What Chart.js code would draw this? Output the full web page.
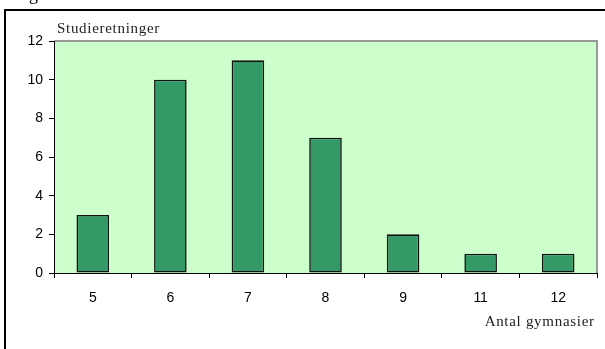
<!DOCTYPE html>
<html>
<head>
<meta charset="utf-8">
<script src="https://cdn.jsdelivr.net/npm/chart.js@4/dist/chart.umd.min.js"></script>
<style>
  html, body { margin: 0; padding: 0; background: #ffffff; }
  #wrap { width: 605px; height: 349px; position: relative; }
</style>
</head>
<body>
<div id="wrap"><canvas id="c" width="605" height="349"></canvas></div>
<script>
// Number of study programmes offered by how many upper-secondary schools
const categories = ['5', '6', '7', '8', '9', '11', '12'];
const studieretninger = [3, 10, 11, 7, 2, 1, 1];
const yTicks = [0, 2, 4, 6, 8, 10, 12];

const yTitle = 'Studieretninger';
const xTitle = 'Antal gymnasier';
const serif = '"Liberation Serif", "DejaVu Serif", serif';
const sans = '"Liberation Sans", Arial, sans-serif';

// Draws text with a little extra tracking, character by character
function trackedText(ctx, text, x, y, spacing, alignRight) {
  const chars = Array.from(text);
  const widths = chars.map(ch => ctx.measureText(ch).width);
  const total = widths.reduce((s, w) => s + w, 0) + spacing * (chars.length - 1);
  let cx = alignRight ? x - total : x;
  ctx.textAlign = 'left';
  chars.forEach((ch, i) => {
    ctx.fillText(ch, cx, y);
    cx += widths[i] + spacing;
  });
}

// Plot background, plot frame, outer frame and axis captions
const decor = {
  id: 'decor',
  beforeDraw(chart) {
    const { ctx, chartArea: a } = chart;
    ctx.save();
    ctx.fillStyle = '#ccffcc';
    ctx.fillRect(a.left, a.top, a.right - a.left, a.bottom - a.top);
    ctx.strokeStyle = '#999999';
    ctx.lineWidth = 2;
    ctx.beginPath();
    ctx.moveTo(a.left, a.top);
    ctx.lineTo(a.right, a.top);
    ctx.lineTo(a.right, a.bottom);
    ctx.stroke();
    ctx.restore();
  },
  afterDraw(chart) {
    const { ctx, chartArea: a } = chart;
    ctx.save();
    // outer frame (continues beyond the canvas to the right and bottom)
    ctx.strokeStyle = '#000000';
    ctx.lineWidth = 2;
    ctx.beginPath();
    ctx.moveTo(5, 349);
    ctx.lineTo(5, 10);
    ctx.lineTo(605, 10);
    ctx.stroke();
    // heading descender above the frame
    ctx.fillStyle = '#000000';
    ctx.font = '18px ' + serif;
    ctx.textAlign = 'left';
    ctx.textBaseline = 'alphabetic';
    ctx.fillText('g', 29, 0);
    // axis captions
    ctx.font = '15px ' + serif;
    ctx.fillStyle = '#222222';
    trackedText(ctx, yTitle, a.left + 3, 33, 0.7, false);
    trackedText(ctx, xTitle, a.right - 3, 326, 0.7, true);
    ctx.restore();
  }
};

new Chart(document.getElementById('c'), {
  type: 'bar',
  data: {
    labels: categories,
    datasets: [{
      data: studieretninger,
      backgroundColor: '#339966',
      borderColor: '#111111',
      borderWidth: 1.6,
      borderSkipped: false,
      barPercentage: 0.42,
      categoryPercentage: 1.0
    }]
  },
  options: {
    responsive: false,
    animation: false,
    events: [],
    layout: { padding: { left: 0, right: 8, top: 41, bottom: 0 } },
    plugins: { legend: { display: false }, tooltip: { enabled: false } },
    scales: {
      x: {
        offset: true,
        afterFit(scale) { scale.height = 76; },
        border: { display: true, color: '#000000', width: 1 },
        grid: {
          offset: true,
          drawOnChartArea: false,
          drawTicks: true,
          tickLength: 5,
          color: '#000000'
        },
        ticks: {
          color: '#000000',
          font: { family: sans, size: 14 },
          padding: 12,
          maxRotation: 0
        }
      },
      y: {
        min: 0,
        max: 12,
        afterFit(scale) { scale.width = 54; },
        afterBuildTicks(scale) { scale.ticks = yTicks.map(v => ({ value: v })); },
        border: { display: true, color: '#000000', width: 1 },
        grid: {
          drawOnChartArea: false,
          drawTicks: true,
          tickLength: 5,
          color: '#000000'
        },
        ticks: {
          color: '#000000',
          font: { family: sans, size: 14 },
          padding: 6
        }
      }
    }
  },
  plugins: [decor]
});
</script>
</body>
</html>
